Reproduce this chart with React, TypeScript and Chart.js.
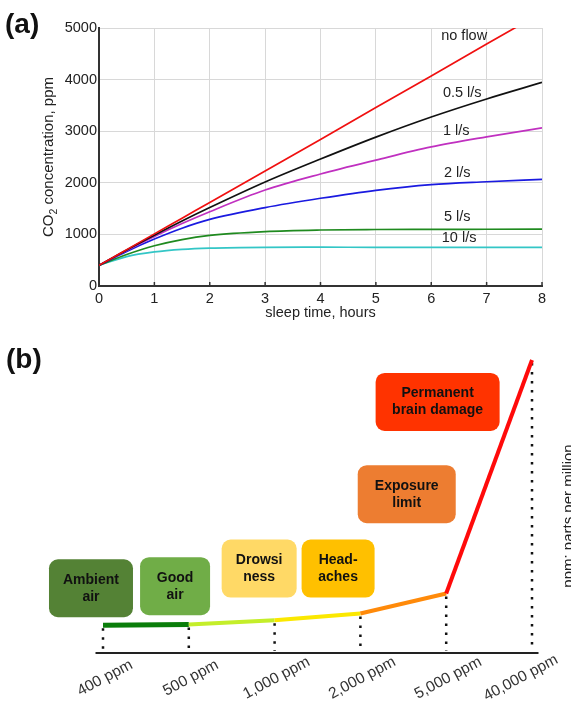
import React, { useEffect, useRef } from 'react';
import { Chart, registerables } from 'chart.js';

Chart.register(...registerables);
Chart.defaults.font.family = 'Arial, "Liberation Sans", sans-serif';

// ---------- Panel (a) data ----------
const hours = [0, 0.5, 1, 1.5, 2, 3, 4, 5, 6, 7, 8];
const noFlow = [400, 705, 1010, 1315, 1620, 2230, 2840, 3460, 4070, 4690, 5300];
const flow05 = [400, 700, 985, 1260, 1520, 2015, 2460, 2885, 3275, 3625, 3945];
const flow1 = [400, 690, 960, 1210, 1440, 1860, 2170, 2440, 2695, 2890, 3065];
const flow2 = [400, 670, 910, 1120, 1290, 1520, 1700, 1855, 1965, 2020, 2065];
const flow5 = [400, 610, 780, 900, 980, 1055, 1085, 1095, 1098, 1100, 1102];
const flow10 = [400, 570, 660, 710, 735, 750, 752, 750, 750, 750, 748];
const seriesNames = ['no flow', '0.5 l/s', '1 l/s', '2 l/s', '5 l/s', '10 l/s'];
const seriesColors = ['#f01010', '#111111', '#c030c0', '#1a1ae0', '#1f8a1f', '#33c6c6'];
const labelHours = [6.18, 6.21, 6.21, 6.23, 6.23, 6.19];
const labelPpm = [4840, 3750, 3000, 2185, 1335, 930];
const xTitleA = 'sleep time, hours';

// ---------- Panel (b) data ----------
const ppmLevels = ['400 ppm', '500 ppm', '1,000 ppm', '2,000 ppm', '5,000 ppm', '40,000 ppm'];
const severity = [0.95, 0.97, 1.12, 1.35, 2.03, 10];
const segmentColors = ['#0a7d0a', '#c4ee2a', '#fbe800', '#ff8a0a', '#ff0a0a'];
const effectLines = [
  ['Ambient', 'air'],
  ['Good', 'air'],
  ['Drowsi', 'ness'],
  ['Head-', 'aches'],
  ['Exposure', 'limit'],
  ['Permanent', 'brain damage'],
];
const effectColors = ['#548235', '#70ad47', '#ffd966', '#ffc000', '#ed7d31', '#ff3300'];
const effectIdx = [-0.14, 0.84, 1.82, 2.74, 3.54, 3.9];
const effectLevel = [2.21, 2.28, 2.88, 2.88, 5.42, 8.57];
const effectWidth = [84, 70, 75, 73, 98, 124];
const unitNote = 'ppm: parts per million';

const annotA = {
  id: 'annotA',
  afterDraw(chart: any) {
    const { ctx, chartArea, scales } = chart;
    const xs = scales.x;
    const ys = scales.y;
    ctx.save();
    // inward ticks on x axis
    ctx.strokeStyle = '#333';
    ctx.lineWidth = 1.5;
    for (let h = 1; h <= 8; h++) {
      const px = xs.getPixelForValue(h);
      ctx.beginPath();
      ctx.moveTo(px, chartArea.bottom);
      ctx.lineTo(px, chartArea.bottom - 4);
      ctx.stroke();
    }
    // series labels
    ctx.fillStyle = '#222';
    ctx.font = '14.5px Arial, "Liberation Sans", sans-serif';
    ctx.textAlign = 'left';
    ctx.textBaseline = 'middle';
    seriesNames.forEach((n, i) => {
      ctx.fillText(n, xs.getPixelForValue(labelHours[i]), ys.getPixelForValue(labelPpm[i]));
    });
    // x title
    ctx.textAlign = 'center';
    ctx.fillText(xTitleA, (chartArea.left + chartArea.right) / 2, 313);
    // y title with subscript
    ctx.translate(48, (chartArea.top + chartArea.bottom) / 2);
    ctx.rotate(-Math.PI / 2);
    const big = '15px Arial, "Liberation Sans", sans-serif';
    const small = '10.5px Arial, "Liberation Sans", sans-serif';
    ctx.font = big;
    const w1 = ctx.measureText('CO').width;
    const w3 = ctx.measureText(' concentration, ppm').width;
    ctx.font = small;
    const w2 = ctx.measureText('2').width;
    const x0 = -(w1 + w2 + w3) / 2;
    ctx.textAlign = 'left';
    ctx.textBaseline = 'alphabetic';
    ctx.font = big;
    ctx.fillText('CO', x0, 5);
    ctx.font = small;
    ctx.fillText('2', x0 + w1, 9);
    ctx.font = big;
    ctx.fillText(' concentration, ppm', x0 + w1 + w2, 5);
    ctx.restore();
    // panel label
    ctx.save();
    ctx.fillStyle = '#111';
    ctx.font = 'bold 28px Arial, "Liberation Sans", sans-serif';
    ctx.textAlign = 'left';
    ctx.textBaseline = 'middle';
    ctx.fillText('(a)', 5, 25);
    ctx.restore();
  },
};

const annotB = {
  id: 'annotB',
  beforeDatasetsDraw(chart: any) {
    const { ctx, chartArea, scales } = chart;
    const xs = scales.x;
    const ys = scales.y;
    ctx.save();
    // baseline
    ctx.strokeStyle = '#222';
    ctx.lineWidth = 2;
    ctx.beginPath();
    ctx.moveTo(chartArea.left - 7.5, chartArea.bottom);
    ctx.lineTo(chartArea.right + 6.5, chartArea.bottom);
    ctx.stroke();
    // dotted drop lines
    ctx.setLineDash([2.5, 6.5]);
    ctx.lineWidth = 2.5;
    ctx.strokeStyle = '#111';
    severity.forEach((v, i) => {
      const px = xs.getPixelForValue(i);
      ctx.beginPath();
      ctx.moveTo(px, ys.getPixelForValue(v) + 3);
      ctx.lineTo(px, chartArea.bottom - 2);
      ctx.stroke();
    });
    ctx.restore();
  },
  afterDraw(chart: any) {
    const { ctx, chartArea, scales } = chart;
    const xs = scales.x;
    const ys = scales.y;
    ctx.save();
    // effect boxes
    effectLines.forEach((lines, i) => {
      const cx = xs.getPixelForValue(effectIdx[i]);
      const cy = ys.getPixelForValue(effectLevel[i]);
      const w = effectWidth[i];
      const h = 58;
      ctx.fillStyle = effectColors[i];
      ctx.beginPath();
      ctx.roundRect(cx - w / 2, cy - h / 2, w, h, 9);
      ctx.fill();
      ctx.fillStyle = '#111';
      ctx.font = 'bold 14px Arial, "Liberation Sans", sans-serif';
      ctx.textAlign = 'center';
      ctx.textBaseline = 'middle';
      ctx.fillText(lines[0], cx, cy - 8.5);
      ctx.fillText(lines[1], cx, cy + 8.5);
    });
    // rotated ppm labels
    ctx.font = '15.5px Arial, "Liberation Sans", sans-serif';
    ctx.fillStyle = '#333';
    const ang = (-28 * Math.PI) / 180;
    ppmLevels.forEach((lab, i) => {
      const w = ctx.measureText(lab).width;
      let cx = xs.getPixelForValue(i);
      const half = (w / 2) * Math.cos(ang);
      if (cx + half > 555) cx = 555 - half;
      ctx.save();
      ctx.translate(cx + 2, chartArea.bottom + 25);
      ctx.rotate(ang);
      ctx.textAlign = 'center';
      ctx.textBaseline = 'middle';
      ctx.fillText(lab, 0, 0);
      ctx.restore();
    });
    // unit note
    ctx.save();
    ctx.translate(569, 186);
    ctx.rotate(-Math.PI / 2);
    ctx.font = '15px Arial, "Liberation Sans", sans-serif';
    ctx.fillStyle = '#222';
    ctx.textAlign = 'center';
    ctx.textBaseline = 'middle';
    ctx.fillText(unitNote, 0, 0);
    ctx.restore();
    // panel label
    ctx.fillStyle = '#111';
    ctx.font = 'bold 28px Arial, "Liberation Sans", sans-serif';
    ctx.textAlign = 'left';
    ctx.textBaseline = 'middle';
    ctx.fillText('(b)', 6, 30);
    ctx.restore();
  },
};

function PanelA() {
  const ref = useRef<HTMLCanvasElement>(null);
  useEffect(() => {
    const series = [noFlow, flow05, flow1, flow2, flow5, flow10];
    const chart = new Chart(ref.current as HTMLCanvasElement, {
      type: 'line',
      data: {
        datasets: series.map((vals, i) => ({
          label: seriesNames[i],
          data: hours.map((h, j) => ({ x: h, y: vals[j] })),
          borderColor: seriesColors[i],
          borderWidth: 1.7,
          pointRadius: 0,
          cubicInterpolationMode: 'monotone' as const,
          fill: false,
        })),
      },
      options: {
        responsive: false,
        animation: false,
        devicePixelRatio: 1,
        layout: { padding: { top: 28, right: 29, left: 0, bottom: 0 } },
        plugins: { legend: { display: false }, tooltip: { enabled: false } },
        scales: {
          x: {
            type: 'linear',
            min: 0,
            max: 8,
            ticks: { stepSize: 1, color: '#222', font: { size: 14.5 }, padding: 4, callback: (v: any) => String(v) },
            grid: { color: '#d8d8d8', drawTicks: false },
            border: { color: '#333', width: 2 },
            afterFit: (s: any) => {
              s.height = 44;
            },
          },
          y: {
            type: 'linear',
            min: 0,
            max: 5000,
            ticks: { stepSize: 1000, color: '#222', font: { size: 14.5 }, padding: 2, callback: (v: any) => String(v) },
            grid: { color: '#d8d8d8', drawTicks: false },
            border: { color: '#333', width: 2 },
            afterFit: (s: any) => {
              s.width = 99;
            },
          },
        },
      },
      plugins: [annotA],
    } as any);
    return () => chart.destroy();
  }, []);
  return <canvas ref={ref} width={571} height={330} style={{ display: 'block', width: 571, height: 330 }} />;
}

function PanelB() {
  const ref = useRef<HTMLCanvasElement>(null);
  useEffect(() => {
    const chart = new Chart(ref.current as HTMLCanvasElement, {
      type: 'line',
      data: {
        labels: ppmLevels,
        datasets: [
          {
            data: severity,
            borderColor: '#ff0a0a',
            borderWidth: 4,
            pointRadius: 0,
            tension: 0,
            clip: false,
            borderCapStyle: 'butt',
            segment: {
              borderColor: (c: any) => segmentColors[c.p0DataIndex],
              borderWidth: (c: any) => (c.p0DataIndex === 0 ? 5 : 4),
            },
          },
        ],
      },
      options: {
        responsive: false,
        animation: false,
        devicePixelRatio: 1,
        layout: { padding: { left: 103, right: 39, top: 30, bottom: 52 } },
        plugins: { legend: { display: false }, tooltip: { enabled: false } },
        scales: {
          x: { display: false },
          y: { display: false, min: 0, max: 10 },
        },
      },
      plugins: [annotB],
    } as any);
    return () => chart.destroy();
  }, []);
  return <canvas ref={ref} width={571} height={375} style={{ display: 'block', width: 571, height: 375 }} />;
}

export default function App() {
  return (
    <div style={{ position: 'absolute', left: 0, top: 0, width: 571, height: 705, background: '#fff', overflow: 'hidden' }}>
      <PanelA />
      <PanelB />
    </div>
  );
}
